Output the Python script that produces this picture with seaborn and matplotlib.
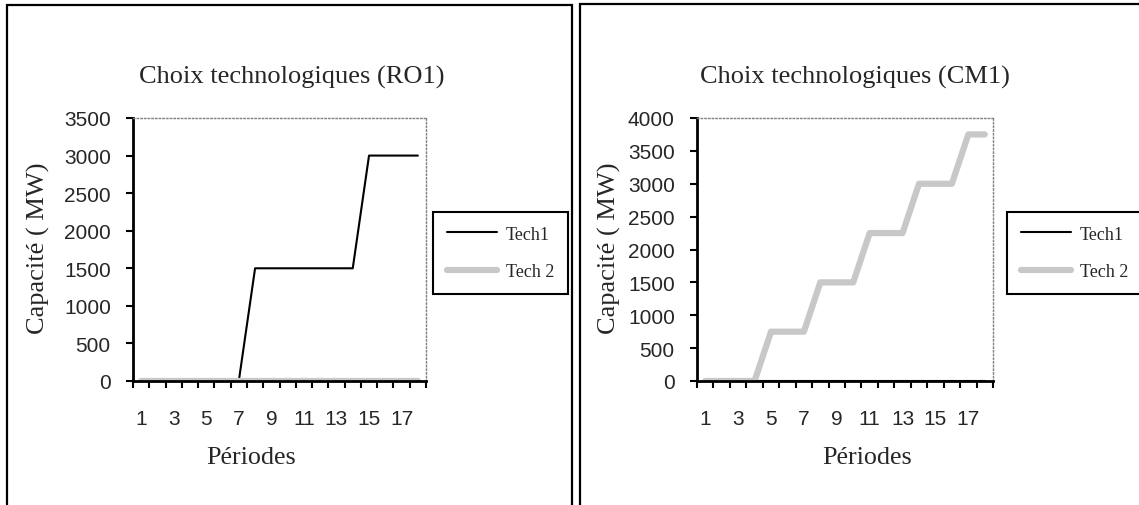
import numpy as np
import pandas as pd
import matplotlib
matplotlib.use("Agg")
import matplotlib.pyplot as plt
import seaborn as sns

# periods 1..18
periods = [1, 2, 3, 4, 5, 6, 7, 8, 9, 10, 11, 12, 13, 14, 15, 16, 17, 18]

# RO1 scenario
ro1_tech1 = [0, 0, 0, 0, 0, 0, 0, 1500, 1500, 1500, 1500, 1500, 1500, 1500, 3000, 3000, 3000, 3000]
ro1_tech2 = [0, 0, 0, 0, 0, 0, 0, 0, 0, 0, 0, 0, 0, 0, 0, 0, 0, 0]

# CM1 scenario
cm1_tech1 = [0, 0, 0, 0, 0, 0, 0, 0, 0, 0, 0, 0, 0, 0, 0, 0, 0, 0]
cm1_tech2 = [0, 0, 0, 0, 750, 750, 750, 1500, 1500, 1500, 2250, 2250, 2250, 3000, 3000, 3000, 3750, 3750]

x_labels = ["1", "3", "5", "7", "9", "11", "13", "15", "17"]
series_names = ["Tech1", "Tech 2"]

sns.set_theme(style="white")
plt.rcParams["font.family"] = ["Liberation Serif", "DejaVu Serif"]

SERIF = "Liberation Serif"
SANS = "Liberation Sans"
W, H = 1139, 506

fig = plt.figure(figsize=(W / 100, H / 100), dpi=100)


def fx(px):
    return px / W


def fy(py):
    return 1 - py / H


def draw_panel(ax, t1, t2, ymax, title, title_x, ylab_x, xlab_x, leg_x):
    df = pd.DataFrame({"period": periods, "Tech1": t1, "Tech 2": t2})
    sns.lineplot(data=df, x="period", y="Tech1", ax=ax, color="black",
                 lw=1.5, label=series_names[0], zorder=3)
    sns.lineplot(data=df, x="period", y="Tech 2", ax=ax, color="#c8c8c8",
                 lw=4.5, label=series_names[1], zorder=4,
                 solid_capstyle="round")

    ax.set_xlim(0.5, 18.5)
    ax.set_ylim(0, ymax)
    ax.set_yticks(np.arange(0, ymax + 1, 500))
    ax.set_yticklabels([str(v) for v in range(0, ymax + 1, 500)],
                       fontfamily=SANS, fontsize=15)
    ax.set_xticks(np.arange(1, 18, 2))
    ax.set_xticklabels(x_labels, fontfamily=SANS, fontsize=15)
    ax.set_xticks(np.arange(0.5, 19, 1), minor=True)
    ax.tick_params(axis="x", which="major", length=0, pad=20)
    ax.tick_params(axis="x", which="minor", length=5, width=1.5,
                   direction="out", color="black", bottom=True)
    ax.tick_params(axis="y", which="major", length=5, width=1.5,
                   direction="out", color="black", left=True, pad=11)
    ax.set_xlabel("")
    ax.set_ylabel("")

    for side in ["left", "bottom"]:
        ax.spines[side].set_color("black")
        ax.spines[side].set_linewidth(2)
    for side in ["top", "right"]:
        ax.spines[side].set_color("#808080")
        ax.spines[side].set_linewidth(1)
        ax.spines[side].set_linestyle(":")
    ax.spines["bottom"].set_zorder(5)

    fig.text(fx(title_x), fy(77), title, ha="center", va="center",
             fontfamily=SERIF, fontsize=19)
    fig.text(fx(ylab_x), fy(248), "Capacité ( MW)", rotation=90,
             ha="center", va="center", fontfamily=SERIF, fontsize=19)
    fig.text(fx(xlab_x), fy(458), "Périodes", ha="center", va="center",
             fontfamily=SERIF, fontsize=18.8)

    leg = ax.legend(loc="upper left", bbox_to_anchor=(fx(leg_x), fy(213)),
                    bbox_transform=fig.transFigure, borderaxespad=0,
                    frameon=True, fancybox=False, framealpha=1,
                    edgecolor="black", handlelength=2.8, handletextpad=0.5,
                    labelspacing=1.15, borderpad=0.75,
                    prop={"family": SERIF, "size": 13})
    leg.get_frame().set_linewidth(1.5)


ax1 = fig.add_axes([fx(133), fy(382), fx(426 - 133), (382 - 119) / H])
ax2 = fig.add_axes([fx(697), fy(382), fx(993 - 697), (382 - 119) / H])

draw_panel(ax1, ro1_tech1, ro1_tech2, 3500, "Choix technologiques (RO1)",
           292, 38, 251, 433)
draw_panel(ax2, cm1_tech1, cm1_tech2, 4000, "Choix technologiques (CM1)",
           855, 609, 867, 1007)

# panel borders
fig.add_artist(plt.Rectangle((fx(7), fy(530)), fx(572 - 7), (530 - 6) / H,
                             transform=fig.transFigure, fill=False,
                             lw=1.6, ec="black"))
fig.add_artist(plt.Rectangle((fx(580), fy(530)), fx(1160 - 580), (530 - 5) / H,
                             transform=fig.transFigure, fill=False,
                             lw=1.6, ec="black"))

fig.savefig("out.png", dpi=100)
